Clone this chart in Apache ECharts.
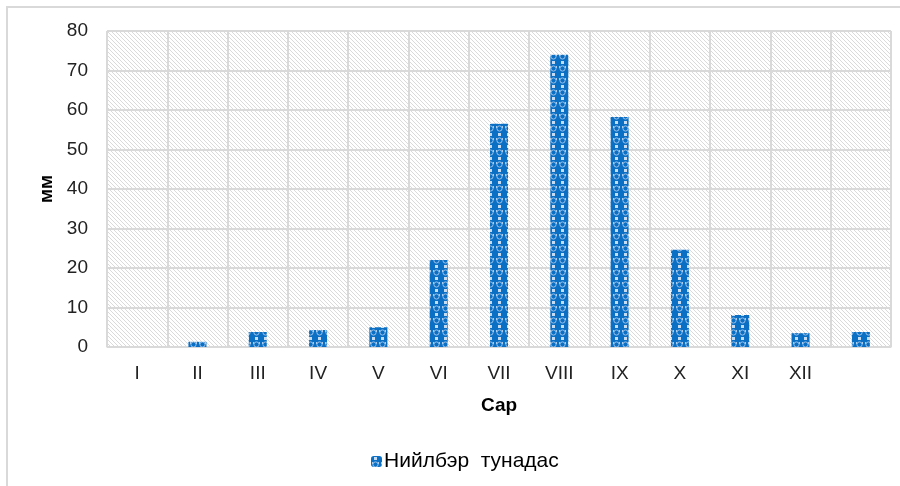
<!DOCTYPE html>
<html><head><meta charset="utf-8">
<script src="https://cdn.jsdelivr.net/npm/echarts@6/dist/echarts.min.js"></script>
<style>html,body{margin:0;padding:0;background:#fff}#c{width:900px;height:486px}</style>
</head><body><div id="c"></div>
<script>
const categories = ['I','II','III','IV','V','VI','VII','VIII','IX','X','XI','XII',''];
const values = [0, 1.3, 3.8, 4.3, 5.0, 22.0, 56.5, 74.0, 58.2, 24.6, 8.1, 3.5, 3.8];
const seriesName = 'Нийлбэр тунадас';
const yTicks = {min: 0, max: 80, interval: 10};

function hatch() {
  const c = document.createElement('canvas'); c.width = 4; c.height = 4;
  const g = c.getContext('2d');
  g.fillStyle = '#ffffff'; g.fillRect(0,0,4,4);
  g.fillStyle = '#dadada';
  for (let i = 0; i < 4; i++) g.fillRect(i, i, 1, 1);
  return c;
}
function barPat() {
  const c = document.createElement('canvas'); c.width = 9; c.height = 12;
  const g = c.getContext('2d');
  g.fillStyle = '#0b6fc4'; g.fillRect(0,0,9,12);
  g.fillStyle = '#c5dcf2';
  g.fillRect(3,1,3,3);
  g.strokeStyle = '#9cc3ea'; g.lineWidth = 1;
  g.beginPath(); g.arc(4.5, 8.5, 2.6, 0, Math.PI*2); g.stroke();
  g.fillStyle = '#a9cbee'; g.fillRect(1,6,1,2); g.fillRect(7,6,1,2);
  return c;
}
const FONT = 'Liberation Sans, Arial';
const chart = echarts.init(document.getElementById('c'));
chart.setOption({
  animation: false,
  graphic: [{type:'rect', shape:{x:7, y:7, width:1000, height:1000}, style:{fill:'none', stroke:'#d9d9d9', lineWidth:2}, silent:true}],
  grid: {left: 107, right: 9, top: 31, bottom: 139, show: true, borderWidth: 1, borderColor: '#d9d9d9',
         backgroundColor: {image: hatch(), repeat: 'repeat'}},
  legend: {bottom: 9, left: 366, itemWidth: 11, itemHeight: 11, itemGap: 10,
           formatter: n => n.replace(' ', '  '),
           textStyle: {fontFamily: FONT, fontSize: 21, color: '#000', padding: [0,0,0,-3]},
           data: [seriesName]},
  xAxis: {type: 'category', data: categories, name: 'Сар', nameLocation: 'middle', nameGap: 49,
          nameTextStyle: {fontFamily: FONT, fontSize: 19, fontWeight: 'bold', color: '#000'},
          axisLine: {lineStyle: {color: '#d9d9d9', width: 1}}, axisTick: {show: false},
          axisLabel: {fontFamily: FONT, fontSize: 19, color: '#222', margin: 17, interval: 0},
          splitLine: {show: true, interval: 0, lineStyle: {color: '#d9d9d9', width: 2}}},
  yAxis: {type: 'value', min: yTicks.min, max: yTicks.max, interval: yTicks.interval,
          name: 'мм', nameLocation: 'middle', nameGap: 50, nameRotate: 90,
          nameTextStyle: {fontFamily: FONT, fontSize: 19, fontWeight: 'bold', color: '#000'},
          axisLine: {show: false}, axisTick: {show: false},
          axisLabel: {fontFamily: FONT, fontSize: 19, color: '#222', margin: 19},
          splitLine: {lineStyle: {color: '#d9d9d9', width: 2}}},
  series: [{type: 'bar', name: seriesName, data: values, barWidth: 18,
            itemStyle: {color: {image: barPat(), repeat: 'repeat'}, borderWidth: 0}}]
});
</script></body></html>
